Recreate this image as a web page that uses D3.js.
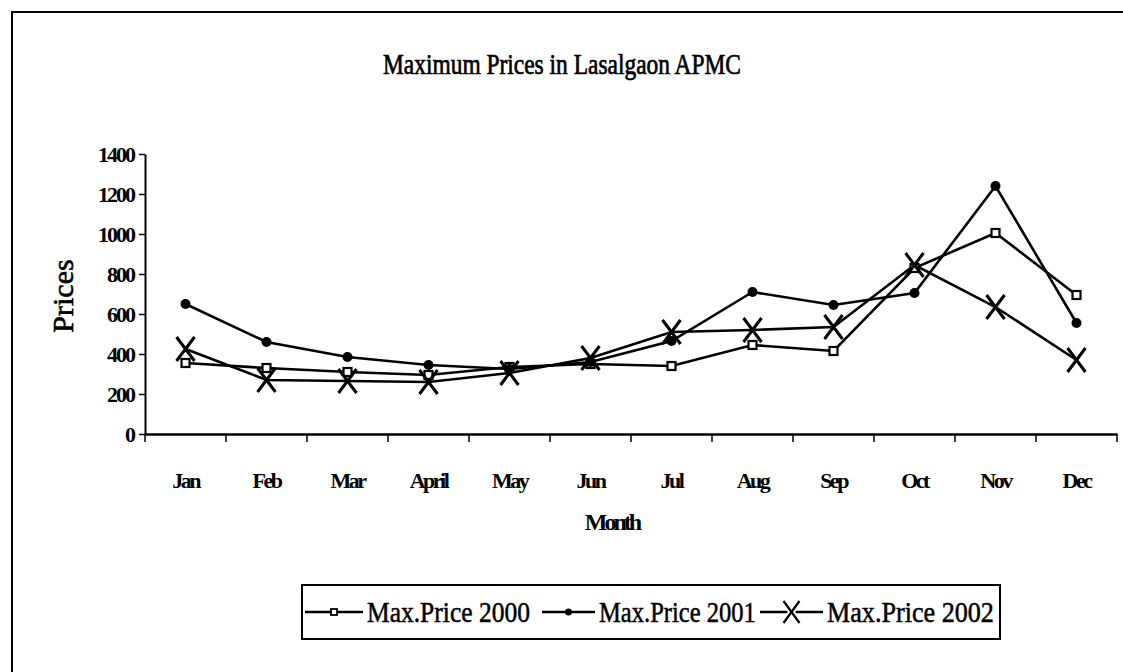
<!DOCTYPE html>
<html><head><meta charset="utf-8">
<script src="https://cdn.jsdelivr.net/npm/d3@7"></script>
<style>body{margin:0;background:#fff}svg{display:block}svg text{font-family:"Liberation Serif","Times New Roman",serif;fill:#000}</style>
</head><body><svg id="c" width="1123" height="672"></svg>
<script>
const months = ["Jan","Feb","Mar","April","May","Jun","Jul","Aug","Sep","Oct","Nov","Dec"];
const price2000 = [355,330,310,295,335,350,340,445,415,830,1005,695];
const price2001 = [650,460,385,345,325,360,465,710,645,705,1240,555];
const price2002 = [425,270,265,260,305,380,510,520,535,845,635,370];
const yTicks = [0,200,400,600,800,1000,1200,1400];
const seriesNames = ["Max.Price 2000","Max.Price 2001","Max.Price 2002"];
const SERIF = "Liberation Serif";

const svg = d3.select("#c");
svg.append("path").attr("d","M12,700 L12,12 L1130,12").attr("fill","none").attr("stroke","#000").attr("stroke-width",2);

function fitText(parent, str, x0, y0, w, size, anchor, extra, weight){
  const g = parent.append("g");
  const t = g.append("text").attr("font-family",SERIF).attr("font-size",size)
    .attr("font-weight",weight||"normal").attr("stroke","#000").attr("stroke-width",extra||0).text(str);
  const nat = t.node().getComputedTextLength();
  const sx = w/nat;
  const left = anchor==="middle" ? x0 - w/2 : x0;
  g.attr("transform",`translate(${left},${y0}) scale(${sx},1)`);
  return g;
}

const x = d3.scaleBand().domain(months).range([145,1117]);
const y = d3.scaleLinear().domain([0,1400]).range([434,154]);

fitText(svg, "Maximum Prices in Lasalgaon APMC", 562, 74, 358, 29, "middle", 0.7, "normal");

const ya = svg.append("g").attr("transform","translate(145,0)")
  .call(d3.axisLeft(y).tickValues(yTicks).tickFormat(d3.format("d")).tickSize(6).tickSizeOuter(0).tickPadding(5));
ya.attr("font-family",SERIF);
ya.select(".domain").attr("stroke-width",2);
ya.selectAll(".tick line").attr("stroke-width",1.5);
ya.selectAll("text").attr("font-size",22).attr("font-weight","bold").attr("letter-spacing","-2px").attr("dy","0.35em");

const xa = svg.append("g").attr("transform","translate(0,434)")
  .call(d3.axisBottom(x).tickSize(0).tickPadding(38));
xa.attr("font-family",SERIF);
xa.select(".domain").attr("stroke-width",2.5);
xa.selectAll("text").attr("font-size",22).attr("font-weight","bold").attr("letter-spacing","-2.5px");
const bounds = months.map(m=>x(m)).concat([x.range()[1]]);
svg.append("g").selectAll("line").data(bounds).join("line")
  .attr("x1",d=>d).attr("x2",d=>d).attr("y1",434).attr("y2",442).attr("stroke","#000").attr("stroke-width",1.5);

svg.append("text").attr("font-family",SERIF).attr("x",612).attr("y",530).attr("text-anchor","middle").attr("font-size",24)
  .attr("font-weight","bold").attr("letter-spacing","-3px").text("Month");
svg.append("text").attr("font-family",SERIF).attr("transform","translate(73,296) rotate(-90)").attr("text-anchor","middle")
  .attr("font-size",30).attr("stroke","#000").attr("stroke-width",0.6).text("Prices");

const cx = m => x(m)+x.bandwidth()/2;
const line = d3.line().x((d,i)=>cx(months[i])).y(d=>y(d));
const data = [price2000, price2001, price2002];
const g = svg.append("g");
data.forEach(s=>{
  g.append("path").datum(s).attr("d",line).attr("fill","none").attr("stroke","#000").attr("stroke-width",2.6);
});
g.selectAll(".sq").data(price2000).join("rect").attr("x",(d,i)=>cx(months[i])-4).attr("y",d=>y(d)-4)
  .attr("width",8).attr("height",8).attr("fill","#fff").attr("stroke","#000").attr("stroke-width",2.2);
g.selectAll(".ci").data(price2001).join("circle").attr("cx",(d,i)=>cx(months[i])).attr("cy",d=>y(d))
  .attr("r",5).attr("fill","#000");
g.selectAll(".xx").data(price2002).join("path")
  .attr("d",(d,i)=>{const a=cx(months[i]),b=y(d);return `M${a-9},${b-12}L${a+9},${b+12}M${a+9},${b-12}L${a-9},${b+12}`;})
  .attr("stroke","#000").attr("stroke-width",3).attr("fill","none");

const lg = svg.append("g");
lg.append("rect").attr("x",302).attr("y",585).attr("width",698).attr("height",54).attr("fill","#fff").attr("stroke","#000").attr("stroke-width",2);
const items = [{x:305,tx:367,w:163,m:"sq"},{x:542,tx:599,w:157,m:"ci"},{x:760,tx:827,w:167,m:"x"}];
items.forEach((it,i)=>{
  const len = it.tx-it.x-4;
  lg.append("line").attr("x1",it.x).attr("x2",it.x+len).attr("y1",612).attr("y2",612).attr("stroke","#000").attr("stroke-width",2.4);
  const mx = it.x+len/2;
  if(it.m==="sq") lg.append("rect").attr("x",mx-3).attr("y",609).attr("width",6).attr("height",6).attr("fill","#fff").attr("stroke","#000").attr("stroke-width",1.8);
  else if(it.m==="ci") lg.append("circle").attr("cx",mx).attr("cy",612).attr("r",3.5).attr("fill","#000");
  else { lg.append("path").attr("d",`M${mx-8},${601}L${mx+8},${623}M${mx+8},${601}L${mx-8},${623}`).attr("stroke","#fff").attr("stroke-width",6);
         lg.append("path").attr("d",`M${mx-8},${601}L${mx+8},${623}M${mx+8},${601}L${mx-8},${623}`).attr("stroke","#000").attr("stroke-width",2.2); }
  fitText(lg, seriesNames[i], it.tx, 622, it.w, 29, "start", 0.5, "normal");
});
</script></body></html>
